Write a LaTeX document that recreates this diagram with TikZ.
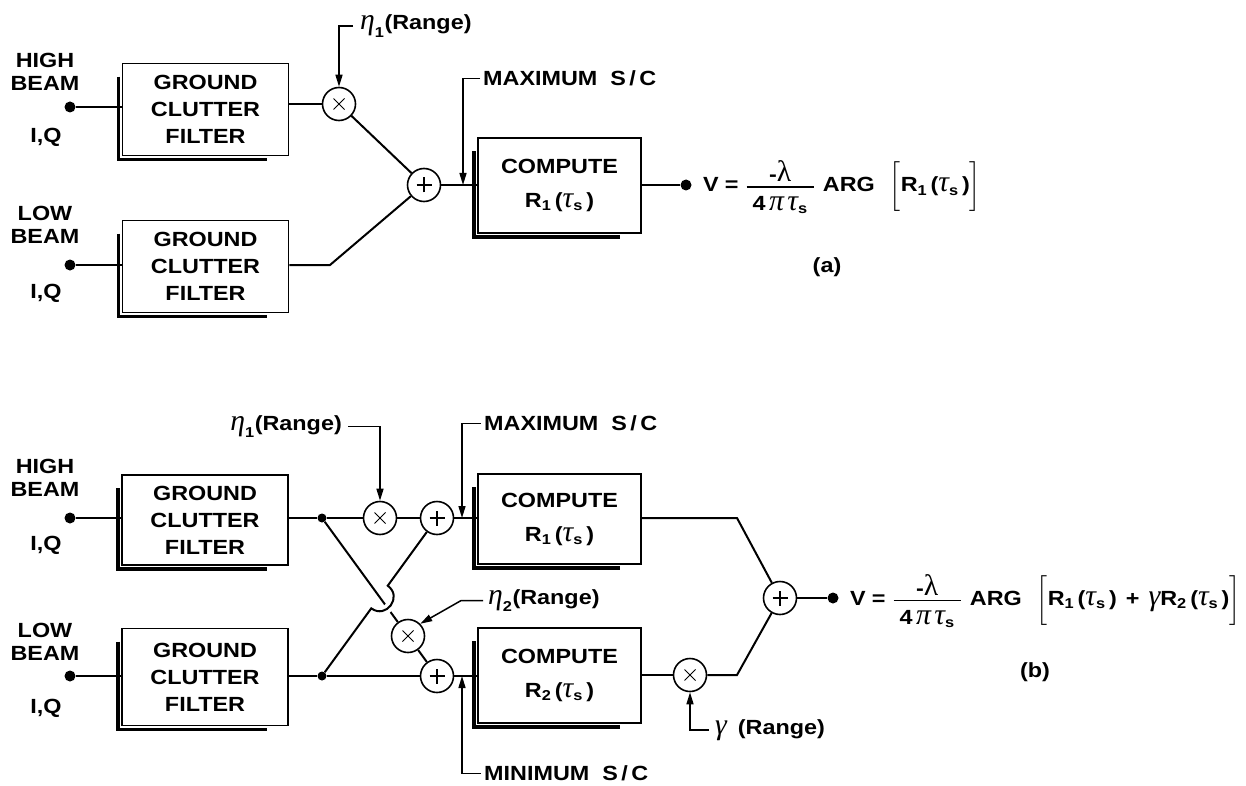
\documentclass[tikz,border=0pt]{standalone}
\usepackage{amsmath}
\usepackage{fontspec}
\setmainfont{Liberation Sans}[FakeStretch=1.14]
\newfontfamily\grk{Liberation Serif}[Scale=1.45]
\usetikzlibrary{arrows.meta,calc}

% label font: bold sans
\newcommand\lab{\fontsize{20.5}{27}\selectfont\bfseries}
% Greek letters from a serif text face (italic / upright), usable in math
\newcommand\gi[1]{\text{\grk\itshape\mdseries #1}}
\newcommand\gu[1]{\text{\grk\upshape\mdseries #1}}
% R_n(tau_s), for use inside math
\newcommand\Rtau[1]{\text{R}_{\text{#1}}\,\text{(}\gi{τ}_{\text{s}}\,\text{)}}
% the common factor -lambda / (4 pi tau_s)
\newcommand\lamfrac{\genfrac{}{}{1.4pt}{0}{\raisebox{-4pt}{-\gu{λ}}}{\rule{0pt}{19pt}\hspace{6pt}\text{4}\,\gi{π}\,\gi{τ}_{\text{s}}\hspace{6pt}}}

\tikzset{
  lbl/.style={font=\lab, inner sep=0pt, align=center},
  wire/.style={line width=2pt},
  feed/.style={line width=1.5pt, -{Triangle[length=12pt,width=7pt]}},
  blockbox/.style={draw, line width=1.6pt, font=\lab, align=center,
    minimum width=166pt, minimum height=92pt, inner sep=0pt},
  shadeline/.style={line width=3.5pt},
  port/.style={circle, fill, inner sep=0pt, minimum size=11pt},
  joint/.style={circle, fill, inner sep=0pt, minimum size=9pt},
  mul/.style={circle, draw, line width=1.6pt, minimum size=33pt, inner sep=0pt,
    path picture={
      \draw[line width=1pt]
        ([shift={(-5.5pt,-5.5pt)}]path picture bounding box.center) --
        ([shift={(5.5pt,5.5pt)}]path picture bounding box.center)
        ([shift={(-5.5pt,5.5pt)}]path picture bounding box.center) --
        ([shift={(5.5pt,-5.5pt)}]path picture bounding box.center);}},
  add/.style={circle, draw, line width=1.6pt, minimum size=33pt, inner sep=0pt,
    path picture={
      \draw[line width=1.6pt]
        ([shift={(-7.5pt,0pt)}]path picture bounding box.center) --
        ([shift={(7.5pt,0pt)}]path picture bounding box.center)
        ([shift={(0pt,-7.5pt)}]path picture bounding box.center) --
        ([shift={(0pt,7.5pt)}]path picture bounding box.center);}},
}

% thick offset edge along the left and bottom of a block
\newcommand\blockshade[1]{%
  \draw[shadeline] ([xshift=-3pt,yshift=-14pt]#1.north west) --
    ([xshift=-3pt,yshift=-3pt]#1.south west) --
    ([xshift=-22pt,yshift=-3pt]#1.south east);}

\begin{document}
\begin{tikzpicture}[x=1pt,y=-1pt]
\useasboundingbox[fill=white] (0,0) rectangle (1246,786);

% ---------------- (a) single correlation ----------------
\node[lbl] (hba) at (45,71.5) {HIGH\\[-4pt]BEAM};
\node[lbl] (iqa) at (46,137) {I,Q};
\node[port] (pa1) at (70,107) {};
\node[blockbox] (fa1) at (205.5,109.5) {GROUND\\CLUTTER\\FILTER};

\node[lbl] (lba) at (45,224.5) {LOW\\[-4pt]BEAM};
\node[lbl] (iqb) at (46,293) {I,Q};
\node[port] (pa2) at (70,265) {};
\node[blockbox] (fa2) at (205.5,266.5) {GROUND\\CLUTTER\\FILTER};

\node[mul] (ma) at (339,104) {};
\node[add] (pa) at (424,185) {};
\coordinate (ka) at (330,265);
\node[blockbox, minimum width=163pt, minimum height=95pt] (ca) at (559.5,185.5)
  {COMPUTE\\[7pt]$\Rtau{1}$};
\node[port] (oa) at (686,185) {};

\node[lbl, anchor=base west] (e1a) at (360,30) {$\gi{η}_{\text{1}}$(Range)};
\node[lbl, anchor=base west] (mxa) at (483,85.5) {MAXIMUM\hspace{13pt}S\,/\,C};
\coordinate (ta) at (463,185);

\node[lbl, anchor=base west] (va) at (703,192)
  {V\hspace{6pt}=\hspace{7pt}$\lamfrac$\hspace{8pt}ARG\hspace{15pt}$\left[\rule[-17pt]{0pt}{45pt}\Rtau{1}\right]$};
\node[lbl] (capa) at (827,267) {(a)};

\foreach \b in {fa1,fa2,ca} {\blockshade{\b}}

\draw[wire] (pa1) -- (pa1 -| fa1.west);
\draw[wire] (pa2) -- (pa2 -| fa2.west);
\draw[wire] (ma -| fa1.east) -- (ma);
\draw[wire] (ma) -- (pa);
\draw[wire] (pa2 -| fa2.east) -- (ka) -- (pa);
\draw[wire] (pa) -- (pa -| ca.west);
\draw[wire] (pa -| ca.east) -- (oa);
\draw[feed] ([xshift=-7pt]e1a.west) -| (ma.north);
\draw[feed] ([xshift=-3pt]mxa.west) -| (ta);

% ---------------- (b) dual correlation ----------------
\node[lbl] (hbb) at (45,477.5) {HIGH\\[-4pt]BEAM};
\node[lbl] (iqc) at (46,545) {I,Q};
\node[port] (pb1) at (70,518) {};
\node[blockbox, minimum height=90pt] (fb1) at (205,520) {GROUND\\CLUTTER\\FILTER};

\node[lbl] (lbb) at (45,641.5) {LOW\\[-4pt]BEAM};
\node[lbl] (iqd) at (46,708) {I,Q};
\node[port] (pb2) at (70,676) {};
\node[blockbox, minimum height=97pt] (fb2) at (205,677) {GROUND\\CLUTTER\\FILTER};

\node[joint] (ju) at (322,518) {};
\node[joint] (jl) at (322,676) {};
\node[mul] (m1) at (380,518) {};
\node[add] (p1) at (437,518) {};
\node[mul] (m2) at (408,636) {};
\node[add] (p2) at (437,676) {};

\node[blockbox, minimum width=163pt, minimum height=90pt] (c1) at (559.5,519)
  {COMPUTE\\[7pt]$\Rtau{1}$};
\node[blockbox, minimum width=163pt, minimum height=95pt] (c2) at (559.5,675.5)
  {COMPUTE\\[7pt]$\Rtau{2}$};

\node[mul] (mg) at (690,675) {};
\coordinate (ku) at (737,518);
\coordinate (kl) at (737,675);
\node[add] (pf) at (780,598) {};
\node[port] (ob) at (833,598) {};

\node[lbl, anchor=base east] (e1b) at (342,430.5) {$\gi{η}_{\text{1}}$(Range)};
\node[lbl, anchor=base west] (mxb) at (484,430.5) {MAXIMUM\hspace{13pt}S\,/\,C};
\coordinate (tb1) at (462,518);
\node[lbl, anchor=base west] (e2) at (488,604.5) {$\gi{η}_{\text{2}}$(Range)};
\node[lbl, anchor=base west] (mnb) at (484,780.5) {MINIMUM\hspace{13pt}S\,/\,C};
\coordinate (tb2) at (462,676);
\node[lbl, anchor=base west] (gl) at (715,734.5) {\gi{γ}\hspace{11pt}(Range)};

\node[lbl, anchor=base west] (vb) at (850,605.5)
  {V\hspace{6pt}=\hspace{7pt}$\lamfrac$\hspace{8pt}ARG\hspace{15pt}$\left[\rule[-17pt]{0pt}{45pt}\Rtau{1}\hspace{9pt}\text{+}\hspace{9pt}\gi{γ}\Rtau{2}\right]$};
\node[lbl] (capb) at (1035,672) {(b)};

\foreach \b in {fb1,fb2,c1,c2} {\blockshade{\b}}

% cross-over point of the two diagonal feeds and the hop around it
\coordinate (X) at (intersection of ju--p2 and jl--p1);
\coordinate (hs) at ($(X)!14pt!(jl)$);
\coordinate (he) at ($(X)!14pt!(p1)$);
\coordinate (hc0) at ($(hs)!18.7pt!90:(jl)$);
\coordinate (hc1) at ($(he)!18.7pt!-90:(p1)$);

\draw[wire] (pb1) -- (pb1 -| fb1.west);
\draw[wire] (pb2) -- (pb2 -| fb2.west);
\draw[wire] (ju -| fb1.east) -- (ju) -- (m1);
\draw[wire] (m1) -- (p1);
\draw[wire] (p1) -- (p1 -| c1.west);
\draw[wire] (jl -| fb2.east) -- (jl) -- (p2);
\draw[wire] (p2) -- (p2 -| c2.west);
\draw[wire] (ju) -- (m2);
\draw[wire] (m2) -- (p2);
\draw[white, line width=9pt] (hs) .. controls (hc0) and (hc1) .. (he);
\draw[wire] (jl) -- (hs) .. controls (hc0) and (hc1) .. (he) -- (p1);
\draw[wire] (p1 -| c1.east) -- (ku) -- (pf);
\draw[wire] (mg -| c2.east) -- (mg);
\draw[wire] (mg) -- (kl) -- (pf);
\draw[wire] (pf) -- (ob);

\draw[feed] ([xshift=6pt]e1b.east) -| (m1.north);
\draw[feed] ([xshift=-3pt]mxb.west) -| (tb1);
\draw[feed] ([xshift=-5pt]e2.west) -- ([xshift=-27pt]e2.west) -- (m2.north east);
\draw[feed] ([xshift=-3pt]mnb.west) -| (tb2);
\draw[feed] ([xshift=-6pt]gl.west) -| (mg.south);
\end{tikzpicture}
\end{document}
